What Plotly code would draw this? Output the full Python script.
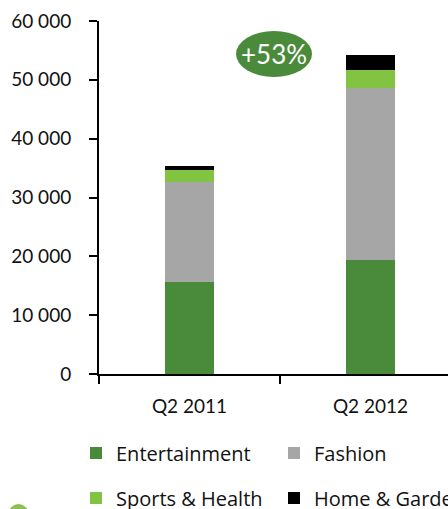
import plotly.graph_objects as go

categories = ["Q2 2011", "Q2 2012"]
entertainment = [15700, 19400]
fashion = [17000, 29200]
sports_health = [2000, 3000]
home_garden = [700, 2700]
series_names = ["Entertainment", "Fashion", "Sports & Health", "Home & Garden"]
series_colors = ["#4a8b3b", "#a6a6a6", "#82c341", "#000000"]
growth_label = "+53%"

FONT = "Lato"
W, H = 448, 509
L, R, T, B = 99, 0, 21, 135
pw, ph = W - L - R, H - T - B

def px_x(p):
    return (p - L) / pw

def px_y(p):
    return (H - B - p) / ph

fig = go.Figure()
data = [entertainment, fashion, sports_health, home_garden]
legend_ids = ["legend", "legend2", "legend3", "legend4"]
for name, vals, col, lg in zip(series_names, data, series_colors, legend_ids):
    fig.add_trace(go.Bar(
        x=categories, y=vals, name=name, width=0.27,
        marker=dict(color=col, line=dict(width=0)),
        legend=lg,
    ))

legend_common = dict(
    orientation="h", xanchor="left", yanchor="middle",
    font=dict(family="Open Sans", size=20, color="#111111"),
    itemwidth=30, bgcolor="rgba(0,0,0,0)",
)
col_x = [76, 274, 76, 274]
row_y = [453, 453, 498, 498]
legend_layout = {}
for lg, cx, ry in zip(legend_ids, col_x, row_y):
    legend_layout[lg] = dict(x=px_x(cx), y=px_y(ry), **legend_common)

fig.update_layout(
    width=W, height=H,
    margin=dict(l=L, r=R, t=T, b=B, pad=0, autoexpand=False),
    paper_bgcolor="white", plot_bgcolor="white",
    barmode="stack", bargap=0,
    separators=". ",
    font=dict(family=FONT, size=19, color="#111111"),
    showlegend=True,
    xaxis=dict(
        range=[-0.5, -0.5 + pw / 181.0],
        showline=True, linecolor="black", linewidth=2,
        ticks="outside", tickson="boundaries", ticklen=8, tickwidth=2, tickcolor="black",
        ticklabelstandoff=14,
        tickfont=dict(family=FONT, size=19, color="#111111"),
        showgrid=False, zeroline=False, fixedrange=True,
    ),
    yaxis=dict(
        range=[0, 60000], tickvals=[0, 10000, 20000, 30000, 40000, 50000, 60000],
        tickformat=",d",
        showline=True, linecolor="black", linewidth=2,
        ticks="outside", ticklen=8, tickwidth=2, tickcolor="black",
        ticklabelstandoff=14,
        tickfont=dict(family=FONT, size=19, color="#111111"),
        showgrid=False, zeroline=False, fixedrange=True,
    ),
    shapes=[
        dict(type="circle", xref="paper", yref="paper",
             x0=px_x(236), x1=px_x(312), y0=px_y(77), y1=px_y(31),
             fillcolor="#4a8b3b", line=dict(width=0), layer="above"),
        dict(type="circle", xref="paper", yref="paper",
             x0=px_x(8.5), x1=px_x(28.5), y0=px_y(524), y1=px_y(504),
             fillcolor="#8cc152", line=dict(width=0), layer="above"),
    ],
    annotations=[
        dict(text=growth_label, xref="paper", yref="paper",
             x=px_x(274), y=px_y(54), showarrow=False,
             xanchor="center", yanchor="middle",
             font=dict(family=FONT, size=26, color="white")),
    ],
    **legend_layout,
)

fig.write_html("out.html")
